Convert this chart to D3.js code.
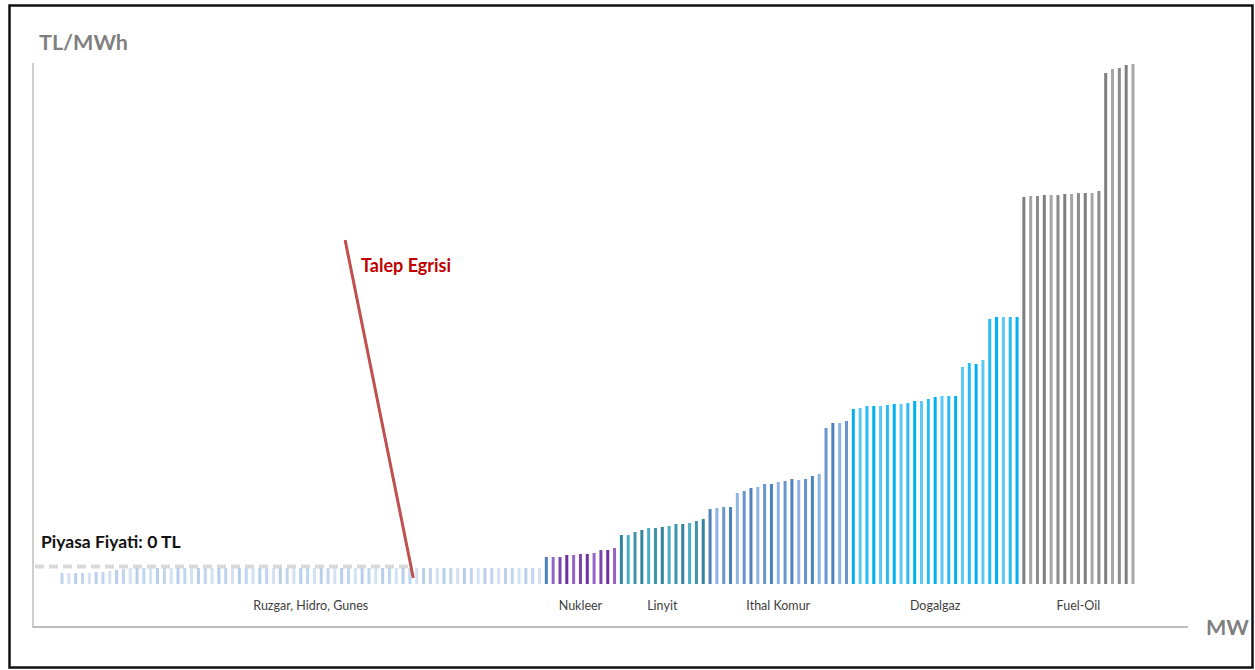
<html>

<head>
    <meta charset="utf-8">
    <script src="https://d3js.org/d3.v7.min.js"></script>
</head>

<body style="margin:0">
    <script>

        // kaynak gruplari (merit order sirasi)
        var categories = ["Ruzgar, Hidro, Gunes", "Nukleer", "Linyit", "Ithal Komur", "Dogalgaz", "Fuel-Oil"];

        // her santralin teklif fiyati (TL/MWh, resimden okunan yaklasik degerler)
        var ruzgarHidroGunes = [
            11, 11, 11, 11, 11, 12, 12, 13, 14, 15,
            16, 16, 16, 16, 16, 16, 16, 16, 16, 16,
            16, 16, 16, 16, 16, 16, 16, 16, 16, 16,
            16, 16, 16, 16, 16, 16, 16, 16, 16, 16,
            16, 16, 16, 16, 16, 16, 16, 16, 16, 16,
            16, 16, 16, 16, 16, 16, 16, 16, 16, 16,
            16, 16, 16, 16, 16, 16, 16, 16, 16, 16,
            16
        ];
        var nukleer = [27, 27, 27, 29, 29, 30, 30, 31, 34, 34, 36];
        var linyit = [49, 49, 52, 54, 56, 56, 57, 58, 60, 60, 61, 63, 65];
        var ithalKomur = [75, 76, 77, 77, 91, 93, 96, 97, 100, 100, 102, 103, 105, 104, 105, 108, 110, 156, 161, 161, 163];
        var dogalgaz = [175, 176, 178, 178, 178, 179, 180, 180, 181, 183, 183, 185, 187, 188, 188, 188,
            217, 221, 220, 224, 265, 267, 267, 267, 267];
        var fuelOil = [387, 388, 388, 389, 389, 389, 390, 390, 391, 391, 391, 393, 511, 515, 516, 519, 520];

        // talep egrisi (x: santral sirasi, y: fiyat)
        var demandCurve = [{ mw: 41.5, price: 344 }, { mw: 51.5, price: 6 }];
        // piyasa fiyati seviyesi
        var marketPrice = 17.5;

        var seriesValues = [ruzgarHidroGunes, nukleer, linyit, ithalKomur, dogalgaz, fuelOil];

        // renkler (grup basina birkac ton)
        var groupColors = [
            ["#c0d5ef", "#d3e1f3", "#b8cfec"],
            ["#7030a0", "#9464c4", "#7f45ad"],
            ["#31859c", "#4bacc6", "#3f95a8"],
            ["#4f81bd", "#8db3e2", "#6a95cc"],
            ["#00b0f0", "#5cc8f4", "#29bbf2"],
            ["#7f7f7f", "#a6a6a6", "#8c8c8c"]
        ];

        var width = 1255;
        var height = 670;
        var baseY = 584;

        var bars = [];
        seriesValues.forEach(function(vals, g) {
            vals.forEach(function(v, k) {
                bars.push({ group: g, k: k, value: v, i: bars.length });
            });
        });

        var svg = d3.select("body").append("svg").attr("width", width).attr("height", height)
            .style("font-family", "Lato, 'Open Sans', sans-serif");

        // cerceve
        svg.append("rect")
            .attr("x", 9.5).attr("y", 5.5)
            .attr("width", 1243).attr("height", 662)
            .attr("fill", "white")
            .attr("stroke", "#111").attr("stroke-width", 2.5);

        // olcekler
        var xScale = d3.scaleBand()
            .domain(d3.range(bars.length))
            .range([58.6, 1136.4])
            .paddingInner(0.56)
            .paddingOuter(0.28);

        var yScale = d3.scaleLinear()
            .domain([0, 520])
            .range([baseY, 64]);

        var bw = xScale.bandwidth();
        var xCenter = d3.scaleLinear()
            .domain([0, bars.length - 1])
            .range([xScale(0) + bw / 2, xScale(bars.length - 1) + bw / 2]);

        // eksenler
        svg.append("line")
            .attr("x1", 33).attr("x2", 33).attr("y1", 63).attr("y2", 628)
            .attr("stroke", "#bfbfbf").attr("stroke-width", 1.5);
        svg.append("line")
            .attr("x1", 33).attr("x2", 1188).attr("y1", 627).attr("y2", 627)
            .attr("stroke", "#a6a6a6").attr("stroke-width", 1.5);

        svg.append("text")
            .attr("x", 39).attr("y", 50)
            .attr("font-size", 21.5).attr("font-weight", "bold")
            .attr("fill", "#7f7f7f")
            .text("TL/MWh");

        svg.append("text")
            .attr("x", 1206).attr("y", 635)
            .attr("font-size", 21.5).attr("font-weight", "bold")
            .attr("fill", "#7f7f7f")
            .text("MW");

        // piyasa fiyati cizgisi (talep egrisine kadar)
        var d0 = demandCurve[0], d1 = demandCurve[1];
        var crossMw = d0.mw + (d0.price - marketPrice) / (d0.price - d1.price) * (d1.mw - d0.mw);
        svg.append("line")
            .attr("x1", 35).attr("x2", xCenter(crossMw))
            .attr("y1", yScale(marketPrice)).attr("y2", yScale(marketPrice))
            .attr("stroke", "#d9d9d9").attr("stroke-width", 4)
            .attr("stroke-dasharray", "9,5");

        svg.append("text")
            .attr("x", 41).attr("y", 548)
            .attr("font-size", 17.5).attr("font-weight", "bold")
            .attr("fill", "#111")
            .text("Piyasa Fiyati: 0 TL");

        // bar gosterimi
        svg.append("g")
            .selectAll("rect")
            .data(bars)
            .enter()
            .append("rect")
            .attr("x", function(d) { return xScale(d.i); })
            .attr("y", function(d) { return yScale(d.value); })
            .attr("width", bw)
            .attr("height", function(d) { return baseY - yScale(d.value); })
            .attr("fill", function(d) {
                if (d.group === 1 && d.k === 0) return "#4f81bd";
                var c = groupColors[d.group];
                return c[d.k % c.length];
            });

        // grup etiketleri
        var start = 0;
        seriesValues.forEach(function(vals, g) {
            var a = xCenter(start), b = xCenter(start + vals.length - 1);
            svg.append("text")
                .attr("x", (a + b) / 2 + (g === 0 ? 10 : 0))
                .attr("y", 610)
                .attr("text-anchor", "middle")
                .attr("font-size", 12.5)
                .attr("fill", "#404040")
                .text(categories[g]);
            start += vals.length;
        });

        // talep egrisi
        var line = d3.line()
            .x(function(d) { return xCenter(d.mw); })
            .y(function(d) { return yScale(d.price); });

        svg.append("path")
            .datum(demandCurve)
            .attr("d", line)
            .attr("fill", "none")
            .attr("stroke", "#c0504d")
            .attr("stroke-width", 3);

        svg.append("text")
            .attr("x", 361).attr("y", 272)
            .attr("font-size", 18).attr("font-weight", "bold")
            .attr("fill", "#c00000")
            .text("Talep Egrisi");
    </script>
</body>

</html>
